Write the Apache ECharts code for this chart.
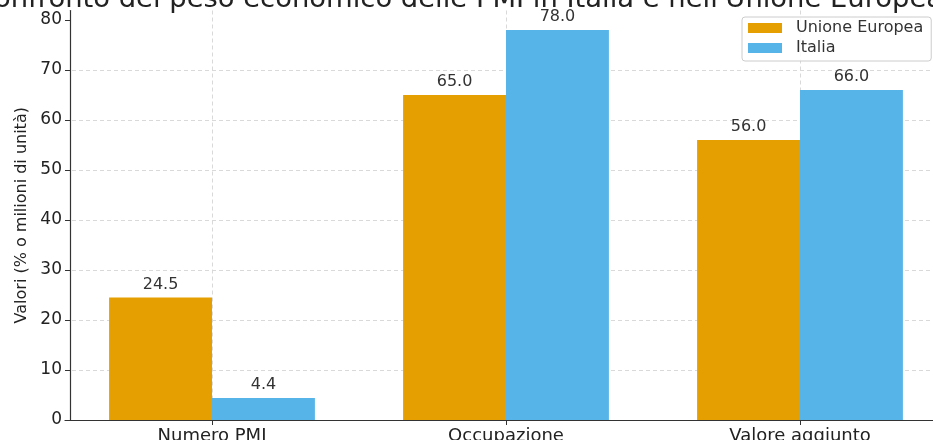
<!DOCTYPE html>
<html>
<head>
<meta charset="utf-8">
<script src="https://cdn.jsdelivr.net/npm/echarts@6/dist/echarts.min.js"></script>
<style>
  html, body { margin: 0; padding: 0; background: #fff; }
  #chart { width: 933px; height: 440px; }
</style>
</head>
<body>
<div id="chart"></div>
<script>
// Confronto PMI: Unione Europea vs Italia
const categories = ['Numero PMI', 'Occupazione', 'Valore aggiunto'];
const seriesNames = ['Unione Europea', 'Italia'];
const valuesUE = [24.5, 65.0, 56.0];
const valuesItalia = [4.4, 78.0, 66.0];
const yTicks = [0, 10, 20, 30, 40, 50, 60, 70, 80];

const FONT = 'DejaVu Sans';
const chart = echarts.init(document.getElementById('chart'), null, { renderer: 'canvas' });

const barLabel = {
  show: true,
  position: 'top',
  distance: 5,
  fontFamily: FONT,
  fontSize: 16,
  color: '#333',
  formatter: p => p.value.toFixed(1)
};

const gridLine = { color: '#d9d9d9', type: [4, 3], width: 1 };

chart.setOption({
  animation: false,
  backgroundColor: '#ffffff',
  title: {
    text: "Confronto del peso economico delle PMI in Italia e nell'Unione Europea",
    left: 454,
    textAlign: 'center',
    top: -19,
    textStyle: { fontFamily: FONT, fontSize: 27.4, fontWeight: 'normal', color: '#222' }
  },
  grid: { left: 65, width: 882, top: 10.5, bottom: 20, containLabel: false, outerBoundsMode: 'none' },
  legend: {
    orient: 'vertical',
    left: 742,
    top: 17,
    padding: [2, 8, 4, 6],
    itemWidth: 34,
    itemHeight: 10,
    itemGap: 2,
    borderColor: '#cccccc',
    borderWidth: 1,
    borderRadius: 3,
    backgroundColor: 'rgba(255,255,255,0.85)',
    icon: 'rect',
    textStyle: { fontFamily: FONT, fontSize: 16, lineHeight: 18, color: '#333', padding: [0, 0, 0, 9] },
    data: seriesNames
  },
  xAxis: {
    type: 'category',
    data: categories,
    axisLine: { lineStyle: { color: '#333', width: 1.2 } },
    axisTick: { show: true, alignWithLabel: true, length: 5, lineStyle: { color: '#333' } },
    axisLabel: { fontFamily: FONT, fontSize: 18, color: '#222', margin: 7 },
    splitLine: { show: true, alignWithLabel: true, lineStyle: gridLine }
  },
  yAxis: {
    type: 'value',
    min: 0,
    max: 81.9,
    interval: 10,
    offset: -5,
    name: 'Valori (% o milioni di unità)',
    nameLocation: 'middle',
    nameGap: 38,
    nameTextStyle: { fontFamily: FONT, fontSize: 16, color: '#222' },
    axisLine: { show: true, lineStyle: { color: '#333', width: 1.2 } },
    axisTick: { show: true, length: 5, lineStyle: { color: '#333' }, customValues: yTicks },
    axisLabel: { fontFamily: FONT, fontSize: 17, color: '#222', margin: 8, customValues: yTicks },
    splitLine: { show: true, showMaxLine: false, lineStyle: gridLine }
  },
  series: [
    {
      name: seriesNames[0],
      type: 'bar',
      data: valuesUE,
      barWidth: '35%',
      barGap: '0%',
      itemStyle: { color: '#E69F00' },
      label: barLabel
    },
    {
      name: seriesNames[1],
      type: 'bar',
      data: valuesItalia,
      barWidth: '35%',
      itemStyle: { color: '#56B4E9' },
      label: barLabel
    }
  ]
});
</script>
</body>
</html>
